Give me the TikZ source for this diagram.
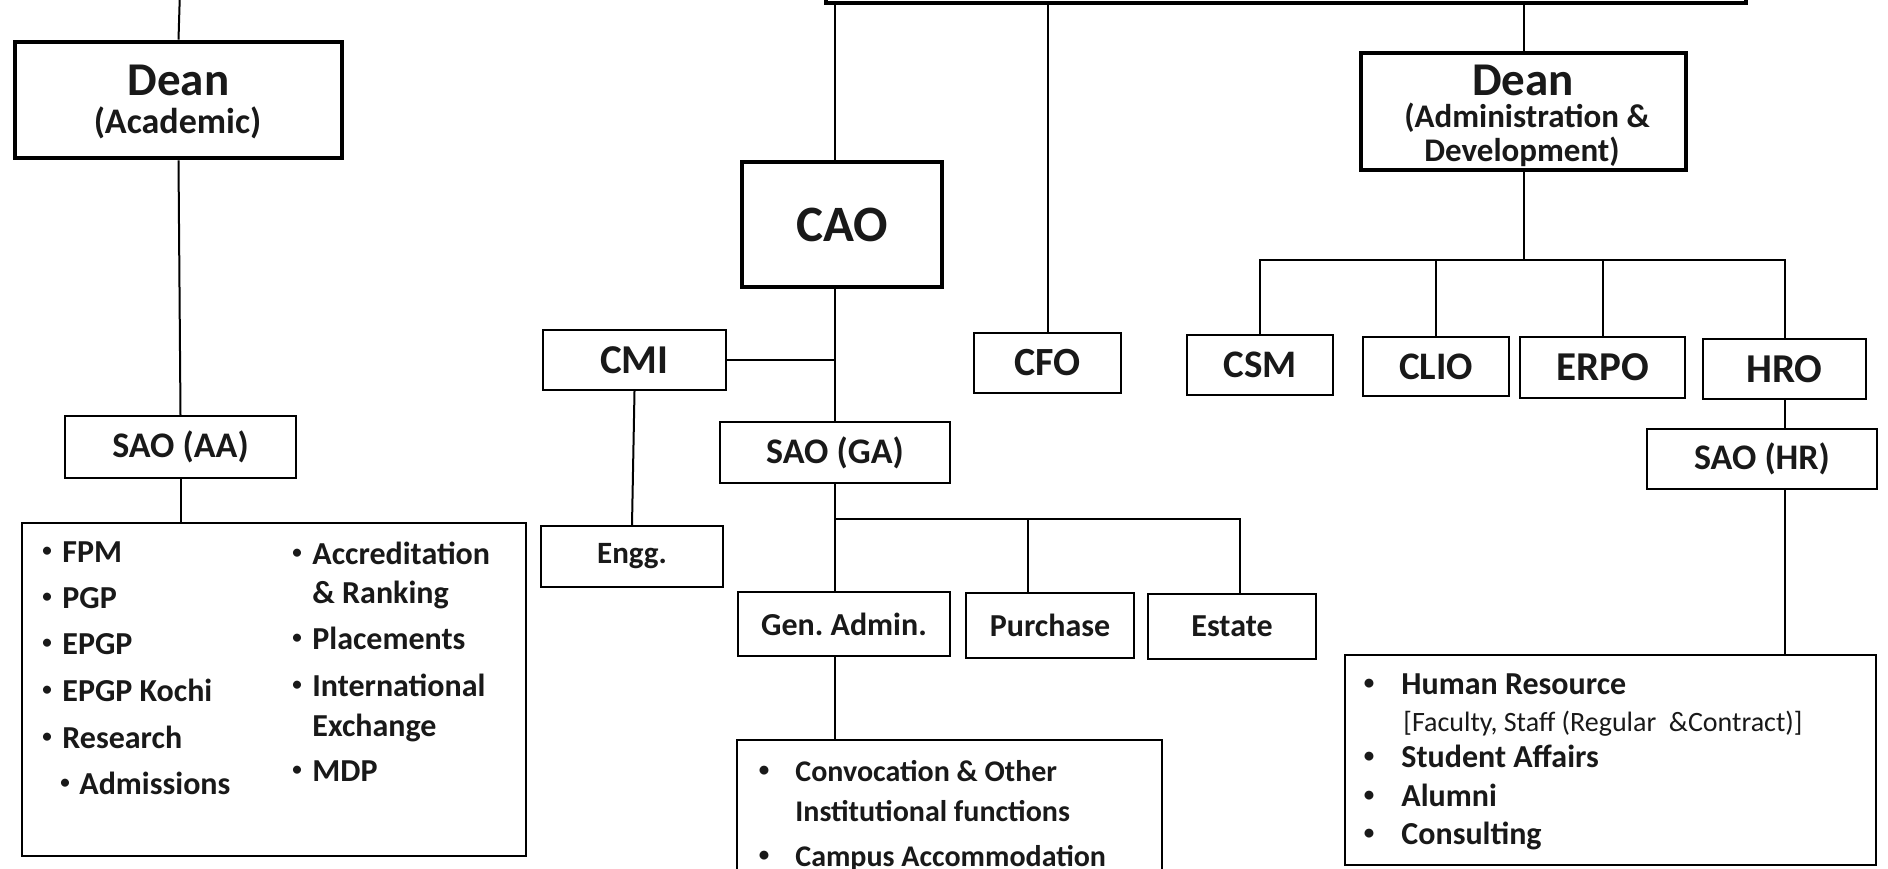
\documentclass[tikz,border=0pt]{standalone}
\usepackage{fontspec}
\setmainfont{Carlito}
\begin{document}
\begin{tikzpicture}[x=0.5pt,y=-0.5pt,
  bx/.style={draw, line width=1.1pt, inner sep=0pt, font=\bfseries, text=black!90},
  tbx/.style={bx, line width=2.3pt},
  conn/.style={line width=1pt},
  lst/.style={anchor=base west, inner sep=0pt, text=black!90, font=\bfseries\fontsize{16}{19}\selectfont},
  bul/.style={anchor=base, inner sep=0pt, text=black!90, font=\bfseries\fontsize{9.5}{10}\selectfont},
  lstc/.style={lst, font=\bfseries\fontsize{15}{18}\selectfont},
  bulc/.style={bul, font=\bfseries\fontsize{10.5}{11}\selectfont},
  ttl/.style={inner sep=0pt, text=black!90},
]
\useasboundingbox (0,0) rectangle (1888,868);
\clip (0,0) rectangle (1888,868);
\fill[white] (0,0) rectangle (1888,868);

% top box (mostly above the page)
\node[tbx, minimum width=460pt, minimum height=51.5pt] (top) at (1286,-48.5) {};

% Dean (Academic)
\node[tbx, minimum width=163.5pt, minimum height=58pt] (deanA) at (178.5,100) {};
\node[ttl, font=\bfseries\fontsize{23.5}{24}\selectfont] (deanAt) at (178.5,80) {Dean};
\node[ttl, font=\bfseries\fontsize{18}{20}\selectfont] (deanAs) at (177.5,123) {(Academic)};

% Dean (Administration & Development)
\node[tbx, minimum width=162.5pt, minimum height=58.5pt] (deanAD) at (1523.5,111.5) {};
\node[ttl, font=\bfseries\fontsize{23.5}{24}\selectfont] (deanADt) at (1523,80) {Dean};
\node[ttl, font=\bfseries\fontsize{16.5}{18}\selectfont] (deanADs1) at (1527,118) {(Administration \&};
\node[ttl, font=\bfseries\fontsize{16.5}{18}\selectfont] (deanADs2) at (1522,152) {Development)};

% CAO
\node[tbx, minimum width=100pt, minimum height=62.5pt, font=\bfseries\fontsize{25.5}{26}\selectfont] (cao) at (842,224.5) {CAO};

% small boxes
\node[bx, minimum width=91.5pt, minimum height=30pt, font=\bfseries\fontsize{20.5}{22}\selectfont] (cmi) at (634.5,360) {CMI};
\node[bx, minimum width=91pt, minimum height=30.5pt, font=\bfseries\fontsize{15.5}{17}\selectfont] (engg) at (632,556.5) {Engg.};
\node[bx, minimum width=115pt, minimum height=30.5pt, font=\bfseries\fontsize{18}{20}\selectfont] (saoGA) at (835,452.5) {SAO (GA)};
\node[bx, minimum width=106pt, minimum height=32pt, font=\bfseries\fontsize{16}{18}\selectfont] (genAdm) at (844,624) {Gen.\ Admin.};
\node[bx, minimum width=84pt, minimum height=32.5pt, font=\bfseries\fontsize{16}{18}\selectfont] (purchase) at (1050,625.5) {Purchase};
\node[bx, minimum width=84pt, minimum height=32.5pt, font=\bfseries\fontsize{16}{18}\selectfont] (estate) at (1232,626.5) {Estate};
\node[bx, minimum width=73.5pt, minimum height=30pt, font=\bfseries\fontsize{20}{22}\selectfont] (cfo) at (1047.5,363) {CFO};
\node[bx, minimum width=73pt, minimum height=30pt, font=\bfseries\fontsize{19.5}{21}\selectfont] (csm) at (1260,365) {CSM};
\node[bx, minimum width=73pt, minimum height=29.5pt, font=\bfseries\fontsize{19.5}{21}\selectfont] (clio) at (1436,366.5) {CLIO};
\node[bx, minimum width=82.5pt, minimum height=30.5pt, font=\bfseries\fontsize{20.5}{22}\selectfont] (erpo) at (1602.5,367.5) {ERPO};
\node[bx, minimum width=81.5pt, minimum height=30pt, font=\bfseries\fontsize{20.5}{22}\selectfont] (hro) at (1784.5,369) {HRO};
\node[bx, minimum width=115pt, minimum height=30pt, font=\bfseries\fontsize{18}{20}\selectfont] (saoHR) at (1762,459) {SAO (HR)};
\node[bx, minimum width=115.5pt, minimum height=31pt, font=\bfseries\fontsize{18}{20}\selectfont] (saoAA) at (180.5,447) {SAO (AA)};

% list boxes
\node[bx, minimum width=252pt, minimum height=166.5pt] (aaList) at (274,689.5) {};
\node[bx, minimum width=212.5pt, minimum height=105pt] (conv) at (949.5,845) {};
\node[bx, minimum width=265.5pt, minimum height=105pt] (hrList) at (1610.5,760) {};

% AA list, left column
\node[bul] (b1) at (47,556) {•};  \node[lst] (i1) at (62,562) {FPM};
\node[bul] (b2) at (47,602) {•};  \node[lst] (i2) at (62,608) {PGP};
\node[bul] (b3) at (47,648) {•};  \node[lst] (i3) at (62,654) {EPGP};
\node[bul] (b4) at (47,695) {•};  \node[lst] (i4) at (62,701) {EPGP Kochi};
\node[bul] (b5) at (47,742) {•};  \node[lst] (i5) at (62,748) {Research};
\node[bul] (b6) at (65,788) {•};  \node[lst] (i6) at (79,794) {Admissions};
% AA list, right column
\node[bul] (b7) at (297,558) {•};  \node[lst] (i7) at (312,564) {Accreditation};
\node[lst] (i7b) at (312,603) {\& Ranking};
\node[bul] (b8) at (297,643) {•};  \node[lst] (i8) at (312,649) {Placements};
\node[bul] (b9) at (297,690) {•};  \node[lst] (i9) at (312,696) {International};
\node[lst] (i9b) at (312,736) {Exchange};
\node[bul] (b10) at (297,775) {•}; \node[lst] (i10) at (312,781) {MDP};

% Convocation list
\node[bulc] (c1b) at (764,776) {•}; \node[lstc] (c1) at (795,781) {Convocation \& Other};
\node[lstc] (c1s) at (795,821) {Institutional functions};
\node[bulc] (c2b) at (764,861) {•}; \node[lstc] (c2) at (795,866) {Campus Accommodation};

% HR list
\node[bulc] (h1b) at (1369,689) {•}; \node[lst] (h1) at (1401,694) {Human Resource};
\node[lst, font=\fontsize{14}{16}\selectfont] (h1s) at (1403,731) {[Faculty, Staff (Regular\ \ \&Contract)]};
\node[bulc] (h2b) at (1369,762) {•}; \node[lst] (h2) at (1401,767) {Student Affairs};
\node[bulc] (h3b) at (1369,801) {•}; \node[lst] (h3) at (1401,806) {Alumni};
\node[bulc] (h4b) at (1369,839) {•}; \node[lst] (h4) at (1401,844) {Consulting};

% connectors
\coordinate (tAcad) at (180,-10);
\coordinate (gaBus) at (831,519);
\coordinate (adBus) at (1519,260);
\draw[conn] (tAcad) -- (deanA.north);
\draw[conn] (deanA.south) -- (saoAA.north);
\draw[conn] (saoAA.south) -- (saoAA.south |- aaList.north);

\draw[conn] (top.south -| saoGA.north) -- (cao.north -| saoGA.north);
\draw[conn] (cao.south -| saoGA.north) -- (saoGA.north);
\draw[conn] (cmi.east) -- (cmi.east -| saoGA.north);
\draw[conn] (cmi.south) -- (engg.north);
\draw[conn] (saoGA.south) -- (saoGA.south |- genAdm.north);
\draw[conn] (saoGA.south |- gaBus) -| ([xshift=4pt]estate.north);
\draw[conn] ([xshift=-11pt]purchase.north) -- ([xshift=-11pt]purchase.north |- gaBus);
\draw[conn] (saoGA.south |- genAdm.south) -- (saoGA.south |- conv.north);

\draw[conn] (top.south -| cfo.north) -- (cfo.north);

\draw[conn] (top.south -| deanAD.north) -- (deanAD.north);
\draw[conn] (deanAD.south) -- (deanAD.south |- adBus);
\draw[conn] (csm.north) |- (hro.north |- adBus) -- (hro.north);
\draw[conn] (clio.north) -- (clio.north |- adBus);
\draw[conn] (erpo.north) -- (erpo.north |- adBus);
\draw[conn] (hro.south) -- (hro.south |- saoHR.north);
\draw[conn] (hro.south |- saoHR.south) -- (hro.south |- hrList.north);
\end{tikzpicture}
\end{document}
